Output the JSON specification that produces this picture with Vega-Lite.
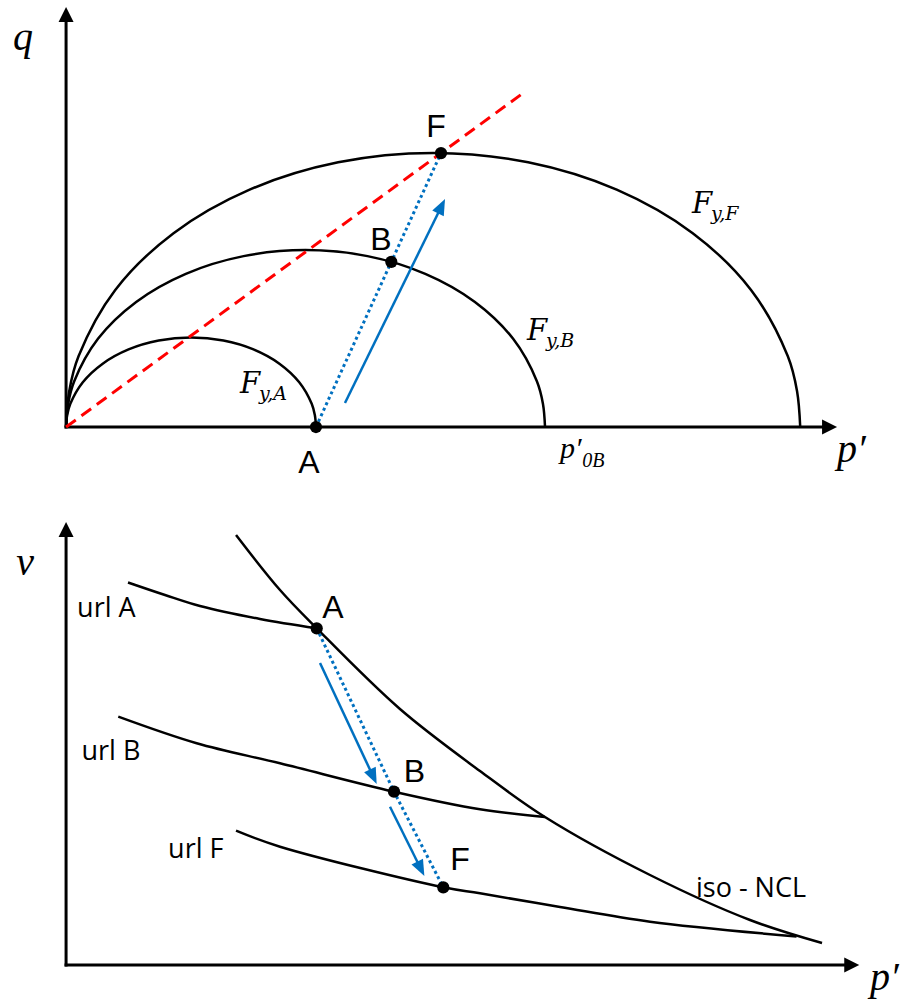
{
  "$schema": "https://vega.github.io/schema/vega-lite/v6.json",
  "background": "white",
  "padding": 0,
  "spacing": 0,
  "config": {"view": {"stroke": null}},
  "resolve": {"scale": {"x": "independent", "y": "independent"}},
  "vconcat": [
    {
      "width": 903,
      "height": 480,
      "encoding": {
        "x": {"field": "p", "type": "quantitative", "scale": {"domain": [-0.9, 11.4], "nice": false, "zero": false}, "axis": null},
        "y": {"field": "q", "type": "quantitative", "scale": {"domain": [-0.722, 5.817], "nice": false, "zero": false}, "axis": null}
      },
      "layer": [
        {
          "data": {"values": [
            {"p": 0, "q": 0, "p2": 0, "q2": 5.57},
            {"p": 0, "q": 0, "p2": 10.36, "q2": 0}
          ]},
          "mark": {"type": "rule", "color": "black", "strokeWidth": 3, "strokeCap": "square"},
          "encoding": {"x2": {"field": "p2"}, "y2": {"field": "q2"}}
        },
        {
          "data": {"values": [{"p": 0, "q": 5.62}]},
          "mark": {"type": "point", "shape": "M0,-1L-1,1L1,1Z", "filled": true, "color": "black", "opacity": 1, "size": 225}
        },
        {
          "data": {"values": [{"p": 10.4, "q": 0}]},
          "mark": {"type": "point", "shape": "M0,-1L-1,1L1,1Z", "angle": 90, "filled": true, "color": "black", "opacity": 1, "size": 225}
        },
        {
          "data": {"values": [
            {"c": "A", "p": 0, "q": 0}, {"c": "A", "p": 0.0146, "q": 0.159}, {"c": "A", "p": 0.058, "q": 0.316},
            {"c": "A", "p": 0.228, "q": 0.61}, {"c": "A", "p": 0.499, "q": 0.863}, {"c": "A", "p": 0.851, "q": 1.057},
            {"c": "A", "p": 1.262, "q": 1.178}, {"c": "A", "p": 1.702, "q": 1.22}, {"c": "A", "p": 2.143, "q": 1.178},
            {"c": "A", "p": 2.553, "q": 1.057}, {"c": "A", "p": 2.906, "q": 0.863}, {"c": "A", "p": 3.176, "q": 0.61},
            {"c": "A", "p": 3.346, "q": 0.316}, {"c": "A", "p": 3.389, "q": 0.159}, {"c": "A", "p": 3.404, "q": 0},
            {"c": "B", "p": 0, "q": 0}, {"c": "B", "p": 0.028, "q": 0.3145}, {"c": "B", "p": 0.111, "q": 0.624},
            {"c": "B", "p": 0.437, "q": 1.205}, {"c": "B", "p": 0.955, "q": 1.704}, {"c": "B", "p": 1.631, "q": 2.087},
            {"c": "B", "p": 2.418, "q": 2.328}, {"c": "B", "p": 3.262, "q": 2.41}, {"c": "B", "p": 4.106, "q": 2.328},
            {"c": "B", "p": 4.893, "q": 2.087}, {"c": "B", "p": 5.569, "q": 1.704}, {"c": "B", "p": 6.087, "q": 1.205},
            {"c": "B", "p": 6.413, "q": 0.624}, {"c": "B", "p": 6.496, "q": 0.3145}, {"c": "B", "p": 6.524, "q": 0},
            {"c": "F", "p": 0, "q": 0}, {"c": "F", "p": 0.043, "q": 0.487}, {"c": "F", "p": 0.171, "q": 0.966},
            {"c": "F", "p": 0.67, "q": 1.867}, {"c": "F", "p": 1.464, "q": 2.64}, {"c": "F", "p": 2.5, "q": 3.233},
            {"c": "F", "p": 3.706, "q": 3.606}, {"c": "F", "p": 5, "q": 3.733}, {"c": "F", "p": 6.294, "q": 3.606},
            {"c": "F", "p": 7.5, "q": 3.233}, {"c": "F", "p": 8.536, "q": 2.64}, {"c": "F", "p": 9.33, "q": 1.867},
            {"c": "F", "p": 9.83, "q": 0.966}, {"c": "F", "p": 9.957, "q": 0.487}, {"c": "F", "p": 10, "q": 0}
          ]},
          "mark": {"type": "line", "interpolate": "catmull-rom", "color": "black", "strokeWidth": 2.5},
          "encoding": {"detail": {"field": "c"}}
        },
        {
          "data": {"values": [{"p": 0, "q": 0}, {"p": 6.2, "q": 4.531}]},
          "mark": {"type": "line", "color": "#FF0000", "strokeWidth": 3, "strokeDash": [12, 7]}
        },
        {
          "data": {"values": [{"p": 3.404, "q": 0}, {"p": 4.43, "q": 2.25}, {"p": 5.107, "q": 3.732}]},
          "mark": {"type": "line", "color": "#0070C0", "strokeWidth": 3, "strokeDash": [3, 3]}
        },
        {
          "data": {"values": [{"p": 3.799, "q": 0.327}, {"p": 5.114, "q": 3.008}]},
          "mark": {"type": "line", "color": "#0070C0", "strokeWidth": 2.5}
        },
        {
          "data": {"values": [{"p": 5.114, "q": 3.008}]},
          "mark": {"type": "point", "shape": "M0,-1L-0.8,1L0.8,1Z", "angle": 26, "filled": true, "color": "#0070C0", "opacity": 1, "size": 256}
        },
        {
          "data": {"values": [{"p": 3.404, "q": 0}, {"p": 4.43, "q": 2.25}, {"p": 5.107, "q": 3.732}]},
          "mark": {"type": "circle", "color": "black", "opacity": 1, "size": 150}
        },
        {
          "data": {"values": [{"t": "q", "p": -0.587, "q": 5.136}]},
          "mark": {"type": "text", "font": "Liberation Serif", "fontStyle": "italic", "fontSize": 40, "align": "center", "baseline": "alphabetic", "color": "black"},
          "encoding": {"text": {"field": "t"}}
        },
        {
          "data": {"values": [{"t": "p′", "p": 10.501, "q": -0.476}]},
          "mark": {"type": "text", "font": "Liberation Serif", "fontStyle": "italic", "fontSize": 40, "align": "left", "baseline": "alphabetic", "color": "black"},
          "encoding": {"text": {"field": "t"}}
        },
        {
          "data": {"values": [
            {"t": "F", "p": 8.526, "q": 2.9155},
            {"t": "F", "p": 6.278, "q": 1.1855},
            {"t": "F", "p": 2.369, "q": 0.4635}
          ]},
          "mark": {"type": "text", "font": "DejaVu Serif", "fontStyle": "italic", "fontSize": 29, "align": "left", "baseline": "alphabetic", "color": "black"},
          "encoding": {"text": {"field": "t"}}
        },
        {
          "data": {"values": [
            {"t": "y,F", "p": 8.785, "q": 2.82},
            {"t": "y,B", "p": 6.537, "q": 1.09},
            {"t": "y,A", "p": 2.628, "q": 0.368}
          ]},
          "mark": {"type": "text", "font": "DejaVu Serif", "fontStyle": "italic", "fontSize": 19, "align": "left", "baseline": "alphabetic", "color": "black"},
          "encoding": {"text": {"field": "t"}}
        },
        {
          "data": {"values": [{"t": "p′", "p": 6.728, "q": -0.422}]},
          "mark": {"type": "text", "font": "Liberation Serif", "fontStyle": "italic", "fontSize": 30, "align": "left", "baseline": "alphabetic", "color": "black"},
          "encoding": {"text": {"field": "t"}}
        },
        {
          "data": {"values": [{"t": "0B", "p": 7.03, "q": -0.545}]},
          "mark": {"type": "text", "font": "Liberation Serif", "fontStyle": "italic", "fontSize": 20, "align": "left", "baseline": "alphabetic", "color": "black"},
          "encoding": {"text": {"field": "t"}}
        },
        {
          "data": {"values": [
            {"t": "F", "p": 5.039, "q": 3.951},
            {"t": "B", "p": 4.29, "q": 2.4115},
            {"t": "A", "p": 3.309, "q": -0.626}
          ]},
          "mark": {"type": "text", "font": "Liberation Sans", "fontSize": 32, "align": "center", "baseline": "alphabetic", "color": "black"},
          "encoding": {"text": {"field": "t"}}
        }
      ]
    },
    {
      "width": 903,
      "height": 523,
      "encoding": {
        "x": {"field": "p", "type": "quantitative", "scale": {"domain": [-0.9, 11.4], "nice": false, "zero": false}, "axis": null},
        "y": {"field": "v", "type": "quantitative", "scale": {"domain": [-0.38, 4.85], "nice": false, "zero": false}, "axis": null}
      },
      "layer": [
        {
          "data": {"values": [
            {"p": 0, "v": 0, "p2": 0, "v2": 4.3},
            {"p": 0, "v": 0, "p2": 10.65, "v2": 0}
          ]},
          "mark": {"type": "rule", "color": "black", "strokeWidth": 3, "strokeCap": "square"},
          "encoding": {"x2": {"field": "p2"}, "y2": {"field": "v2"}}
        },
        {
          "data": {"values": [{"p": 0, "v": 4.355}]},
          "mark": {"type": "point", "shape": "M0,-1L-1,1L1,1Z", "filled": true, "color": "black", "opacity": 1, "size": 225}
        },
        {
          "data": {"values": [{"p": 10.702, "v": 0}]},
          "mark": {"type": "point", "shape": "M0,-1L-1,1L1,1Z", "angle": 90, "filled": true, "color": "black", "opacity": 1, "size": 225}
        },
        {
          "data": {"values": [
            {"c": "iso-NCL", "p": 2.315, "v": 4.3}, {"c": "iso-NCL", "p": 2.914, "v": 3.75},
            {"c": "iso-NCL", "p": 3.414, "v": 3.367}, {"c": "iso-NCL", "p": 4.548, "v": 2.56},
            {"c": "iso-NCL", "p": 5.638, "v": 1.94}, {"c": "iso-NCL", "p": 6.523, "v": 1.48},
            {"c": "iso-NCL", "p": 7.954, "v": 0.9}, {"c": "iso-NCL", "p": 9.316, "v": 0.45},
            {"c": "iso-NCL", "p": 10.297, "v": 0.22},
            {"c": "url A", "p": 0.8435, "v": 3.825}, {"c": "url A", "p": 1.3475, "v": 3.7},
            {"c": "url A", "p": 1.824, "v": 3.59}, {"c": "url A", "p": 2.6415, "v": 3.46},
            {"c": "url A", "p": 3.414, "v": 3.367},
            {"c": "url B", "p": 0.711, "v": 2.483}, {"c": "url B", "p": 1.779, "v": 2.217},
            {"c": "url B", "p": 2.914, "v": 2.017}, {"c": "url B", "p": 4.467, "v": 1.733},
            {"c": "url B", "p": 5.638, "v": 1.557}, {"c": "url B", "p": 6.523, "v": 1.48},
            {"c": "url F", "p": 2.315, "v": 1.343}, {"c": "url F", "p": 2.914, "v": 1.183},
            {"c": "url F", "p": 5.138, "v": 0.777}, {"c": "url F", "p": 5.638, "v": 0.717},
            {"c": "url F", "p": 6.728, "v": 0.58}, {"c": "url F", "p": 7.954, "v": 0.433},
            {"c": "url F", "p": 9.95, "v": 0.285}
          ]},
          "mark": {"type": "line", "interpolate": "catmull-rom", "color": "black", "strokeWidth": 2.5},
          "encoding": {"detail": {"field": "c"}}
        },
        {
          "data": {"values": [{"p": 3.414, "v": 3.367}, {"p": 4.467, "v": 1.733}, {"p": 5.138, "v": 0.777}]},
          "mark": {"type": "line", "color": "#0070C0", "strokeWidth": 3, "strokeDash": [3, 3]}
        },
        {
          "data": {"values": [
            {"a": "1", "p": 3.459, "v": 3.02}, {"a": "1", "p": 4.185, "v": 1.882},
            {"a": "2", "p": 4.412, "v": 1.583}, {"a": "2", "p": 4.832, "v": 0.962}
          ]},
          "mark": {"type": "line", "color": "#0070C0", "strokeWidth": 2.5},
          "encoding": {"detail": {"field": "a"}}
        },
        {
          "data": {"values": [{"p": 4.185, "v": 1.882}]},
          "mark": {"type": "point", "shape": "M0,-1L-0.8,1L0.8,1Z", "angle": 155, "filled": true, "color": "#0070C0", "opacity": 1, "size": 256}
        },
        {
          "data": {"values": [{"p": 4.832, "v": 0.962}]},
          "mark": {"type": "point", "shape": "M0,-1L-0.8,1L0.8,1Z", "angle": 153.6, "filled": true, "color": "#0070C0", "opacity": 1, "size": 256}
        },
        {
          "data": {"values": [{"p": 3.414, "v": 3.367}, {"p": 4.467, "v": 1.733}, {"p": 5.138, "v": 0.777}]},
          "mark": {"type": "circle", "color": "black", "opacity": 1, "size": 150}
        },
        {
          "data": {"values": [{"t": "v", "p": -0.559, "v": 3.9}]},
          "mark": {"type": "text", "font": "Liberation Serif", "fontStyle": "italic", "fontSize": 40, "align": "center", "baseline": "alphabetic", "color": "black"},
          "encoding": {"text": {"field": "t"}}
        },
        {
          "data": {"values": [{"t": "p′", "p": 10.95, "v": -0.25}]},
          "mark": {"type": "text", "font": "Liberation Serif", "fontStyle": "italic", "fontSize": 40, "align": "left", "baseline": "alphabetic", "color": "black"},
          "encoding": {"text": {"field": "t"}}
        },
        {
          "data": {"values": [
            {"t": "A", "p": 3.636, "v": 3.47},
            {"t": "B", "p": 4.746, "v": 1.83},
            {"t": "F", "p": 5.366, "v": 0.95}
          ]},
          "mark": {"type": "text", "font": "Liberation Sans", "fontSize": 32, "align": "center", "baseline": "alphabetic", "color": "black"},
          "encoding": {"text": {"field": "t"}}
        },
        {
          "data": {"values": [
            {"t": "url A", "p": 0.15, "v": 3.48},
            {"t": "url B", "p": 0.21, "v": 2.05},
            {"t": "url F", "p": 1.39, "v": 1.07},
            {"t": "iso - NCL", "p": 8.58, "v": 0.68}
          ]},
          "mark": {"type": "text", "font": "Open Sans", "fontSize": 27, "align": "left", "baseline": "alphabetic", "color": "black"},
          "encoding": {"text": {"field": "t"}}
        }
      ]
    }
  ]
}
